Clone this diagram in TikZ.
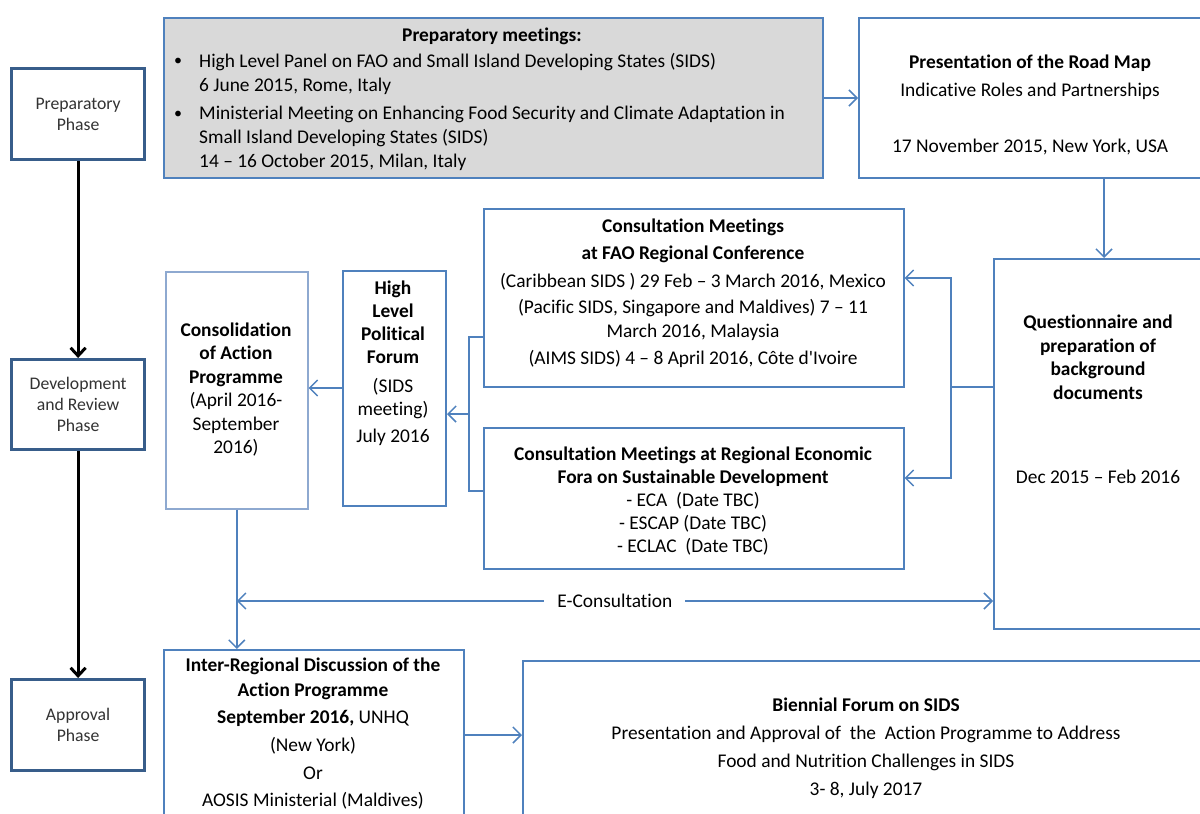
\documentclass[tikz,border=0pt]{standalone}
\usepackage{fontspec}
\setmainfont{Carlito}[Ligatures=NoCommon]
\usetikzlibrary{arrows.meta}
\definecolor{ob}{HTML}{4F81BD}
\definecolor{lb}{HTML}{8EA9D0}
\definecolor{pb}{HTML}{385D8A}
\definecolor{gf}{HTML}{D9D9D9}
\definecolor{ptx}{HTML}{333333}
\begin{document}
\begin{tikzpicture}[x=1pt,y=-1pt,
  every node/.style={inner sep=0pt},
  box/.style={draw=ob, line width=1.6pt, fill=white, anchor=north west},
  phase/.style={draw=pb, line width=3.2pt, fill=white, anchor=north west, align=center,
    text=ptx, font=\fontsize{17.7}{21}\selectfont},
  txt/.style={align=center, font=\fontsize{19.4}{23.5}\selectfont},
  ltxt/.style={align=left, anchor=west, font=\fontsize{19.4}{23.8}\selectfont},
  ln/.style={draw=ob, line width=1.5pt},
  arr/.style={ln, -{Straight Barb[length=8pt,width=16pt]}},
  arr2/.style={ln, {Straight Barb[length=8pt,width=16pt]}-{Straight Barb[length=8pt,width=16pt]}},
  blk/.style={draw=black, line width=3pt, -{Straight Barb[length=8pt,width=15pt]}}
]
\useasboundingbox (0,0) rectangle (1200,814);

% phase boxes
\node[phase, minimum width=133pt, minimum height=91pt] (pp) at (10,67) {Preparatory\\Phase};
\node[phase, minimum width=133pt, minimum height=90pt] (dp) at (10,358) {Development\\and Review\\Phase};
\node[phase, minimum width=133pt, minimum height=91pt] (ap) at (10,678) {Approval\\Phase};
\draw[blk] (pp) -- (dp);
\draw[blk] (dp) -- (ap);

% preparatory meetings
\node[box, fill=gf, minimum width=659pt, minimum height=160pt] (gray) at (163,17) {};
\node[txt] (gt) at (492,36) {\textbf{Preparatory meetings:}};
\node[txt, font=\fontsize{16}{20}\selectfont] (b1) at (178,62) {•};
\node[txt, font=\fontsize{16}{20}\selectfont] (b2) at (178,115) {•};
\node[ltxt] (i1) at (199,74) {High Level Panel on FAO and Small Island Developing States (SIDS)\\6 June 2015, Rome, Italy};
\node[ltxt] (i2) at (199,138.5) {Ministerial Meeting on Enhancing Food Security and Climate Adaptation in\\Small Island Developing States (SIDS)\\14 – 16 October 2015, Milan, Italy};

% road map
\node[box, minimum width=344pt, minimum height=160pt] (rm) at (858,17) {};
\node[txt] (rmt) at (1030,105) {\textbf{Presentation of the Road Map}\\[4.5pt]Indicative Roles and Partnerships\\[32.5pt]17 November 2015, New York, USA};

% questionnaire
\node[box, minimum width=212pt, minimum height=370pt] (q) at (993,258) {};
\node[txt] (qt) at (1098,399.5) {\textbf{Questionnaire and}\\\textbf{preparation of}\\\textbf{background}\\\textbf{documents}\\[60.5pt]Dec 2015 – Feb 2016};

% FAO consultation
\node[box, minimum width=420pt, minimum height=178pt] (fao) at (483,208) {};
\node[txt] (faot) at (693,293.5) {\textbf{Consultation Meetings}\\[4pt]\textbf{at FAO Regional Conference}\\[4pt](Caribbean SIDS ) 29 Feb – 3 March 2016, Mexico\\[3pt](Pacific SIDS, Singapore and Maldives) 7 – 11\\March 2016, Malaysia\\[4pt](AIMS SIDS) 4 – 8 April 2016, Côte d\textquotesingle Ivoire};

% regional economic fora
\node[box, minimum width=420pt, minimum height=141pt] (re) at (483,427) {};
\node[txt, font=\fontsize{19.4}{23}\selectfont] (ret) at (693,501) {\textbf{Consultation Meetings at Regional Economic}\\\textbf{Fora on Sustainable Development}\\- ECA\ \ (Date TBC)\\- ESCAP (Date TBC)\\- ECLAC\ \ (Date TBC)};

% HLPF
\node[box, line width=2pt, minimum width=103pt, minimum height=235pt] (hl) at (342,270) {};
\node[txt, font=\fontsize{19.4}{23}\selectfont] (hlt) at (393,363) {\textbf{High}\\\textbf{Level}\\\textbf{Political}\\\textbf{Forum}\\[6pt](SIDS\\meeting)\\[4pt]July 2016};

% consolidation
\node[box, draw=lb, minimum width=142pt, minimum height=237pt] (co) at (165,271) {};
\node[txt] (cot) at (236,389.5) {\textbf{Consolidation}\\\textbf{of Action}\\\textbf{Programme}\\(April 2016-\\September\\2016)};

% inter-regional
\node[box, minimum width=300pt, minimum height=180pt] (ir) at (163,649) {};
\node[txt] (irt) at (313,733.5) {\textbf{Inter-Regional Discussion of the}\\[1.5pt]\textbf{Action Programme}\\[3.5pt]\textbf{September 2016,} UNHQ\\[4.5pt](New York)\\[4.5pt]Or\\[3.5pt]AOSIS Ministerial (Maldives)};

% biennial
\node[box, minimum width=690pt, minimum height=180pt] (bf) at (522,660) {};
\node[txt] (bft) at (866,748) {\textbf{Biennial Forum on SIDS}\\[4.5pt]Presentation and Approval of\ \ the\ \ Action Programme to Address\\[4.5pt]Food and Nutrition Challenges in SIDS\\[4.5pt]3- 8, July 2017};

% connectors
\coordinate (ya) at (0,98);
\draw[arr] (gray.east |- ya) -- (rm.west |- ya);
\coordinate (xb) at (1104,0);
\draw[arr] (rm.south -| xb) -- (q.north -| xb);
\coordinate (j1) at (951,387);
\coordinate (yf) at (0,278);
\coordinate (yr) at (0,478);
\draw[ln] (q.west |- j1) -- (j1);
\draw[arr] (j1) |- (fao.east |- yf);
\draw[arr] (j1) |- (re.east |- yr);
\coordinate (j2) at (469,414);
\coordinate (yf2) at (0,337);
\coordinate (yr2) at (0,491);
\draw[ln] (fao.west |- yf2) -| (j2) |- (re.west |- yr2);
\draw[arr] (j2) -- (hl.east |- j2);
\coordinate (yc) at (0,388);
\draw[arr] (hl.west |- yc) -- (co.east |- yc);
\draw[arr] (co.south) -- (co.south |- ir.north);
\coordinate (ye) at (0,601);
\draw[arr2] (co.south |- ye) -- node[fill=white, inner xsep=13pt, inner ysep=3pt, font=\fontsize{19.4}{20}\selectfont] (ec) {E-Consultation} (q.west |- ye);
\coordinate (yi) at (0,735);
\draw[arr] (ir.east |- yi) -- (bf.west |- yi);
\end{tikzpicture}
\end{document}
